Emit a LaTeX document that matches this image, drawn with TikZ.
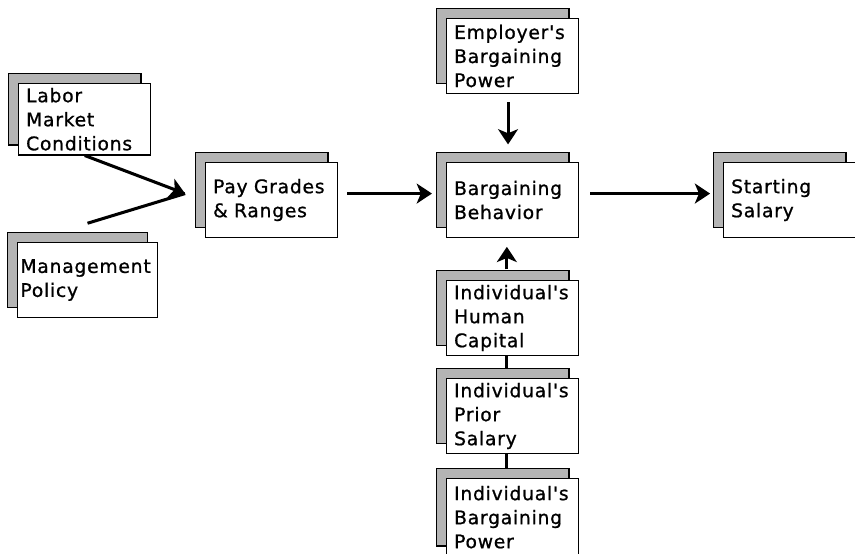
\documentclass[tikz,border=0pt]{standalone}
\usepackage{fontspec}
\usepackage{xcolor}
\usepackage{tikz}
\usetikzlibrary{arrows.meta,positioning,calc,shadows}
\newfontfamily\sbfont[FakeBold=0.9,LetterSpace=4]{DejaVu Sans}
\definecolor{sbshade}{HTML}{B4B4B4}
\tikzset{
  sbbox/.style={draw=black, line width=0.9pt, fill=white, anchor=north west,
    align=left, font={\sbfont\fontsize{16pt}{20.5pt}\selectfont},
    inner xsep=6.5pt, inner ysep=2pt, text width=100pt, minimum height=64pt,
    copy shadow={shadow xshift=-8.5pt, shadow yshift=8.5pt,
      fill=sbshade, draw=black, line width=1.4pt}},
  sbarrow/.style={-{Stealth[length=13pt,width=17pt,inset=3.5pt]}, line width=2.6pt},
  sbline/.style={line width=2.6pt}
}
\begin{document}
\begin{tikzpicture}[x=3cm, y=3cm]
  \useasboundingbox (0,0) rectangle (8.55,5.53);
  \node[sbbox, minimum height=61pt] (labor) at (0.18,4.70) {Labor\\Market\\Conditions};
  \node[sbbox, inner xsep=2.5pt, text width=114.5pt] (mgmt) at (0.17,3.11) {Management\\Policy};
  \node[sbbox] (pay) at (2.05,3.91) {Pay Grades\\\& Ranges};
  \node[sbbox] (emp) at (4.46,5.35) {Employer's\\Bargaining\\Power};
  \node[sbbox] (bargain) at (4.46,3.91) {Bargaining\\Behavior};
  \node[sbbox] (start) at (7.23,3.91) {Starting\\Salary};
  \node[sbbox] (human) at (4.46,2.73) {Individual's\\Human\\Capital};
  \node[sbbox] (prior) at (4.46,1.75) {Individual's\\Prior\\Salary};
  \node[sbbox, minimum height=66pt] (power) at (4.46,0.75) {Individual's\\Bargaining\\Power};
  \coordinate (paytip) at ([xshift=-17pt,yshift=5.5pt]pay.west);
  \draw[sbarrow] (labor.south) -- (paytip);
  \draw[sbline] ([yshift=16pt]mgmt.north) -- (paytip);
  \draw[sbarrow] ([xshift=7.7pt,yshift=5.5pt]pay.east) -- ([xshift=-12pt,yshift=5.5pt]bargain.west);
  \draw[sbarrow] ([xshift=9.4pt,yshift=5.5pt]bargain.east) -- ([xshift=-11pt,yshift=5.5pt]start.west);
  \draw[sbarrow] ([xshift=-4pt,yshift=-7pt]emp.south) -- ([xshift=-4pt,yshift=15pt]bargain.north);
  \draw[sbarrow] ([xshift=-5pt,yshift=9pt]human.north) -- ([xshift=-5pt,yshift=-7.5pt]bargain.south);
  \draw[sbline] ([xshift=-5pt]human.south) -- ([xshift=-5pt,yshift=8.5pt]prior.north);
  \draw[sbline] ([xshift=-5pt]prior.south) -- ([xshift=-5pt,yshift=8.5pt]power.north);
\end{tikzpicture}
\end{document}
